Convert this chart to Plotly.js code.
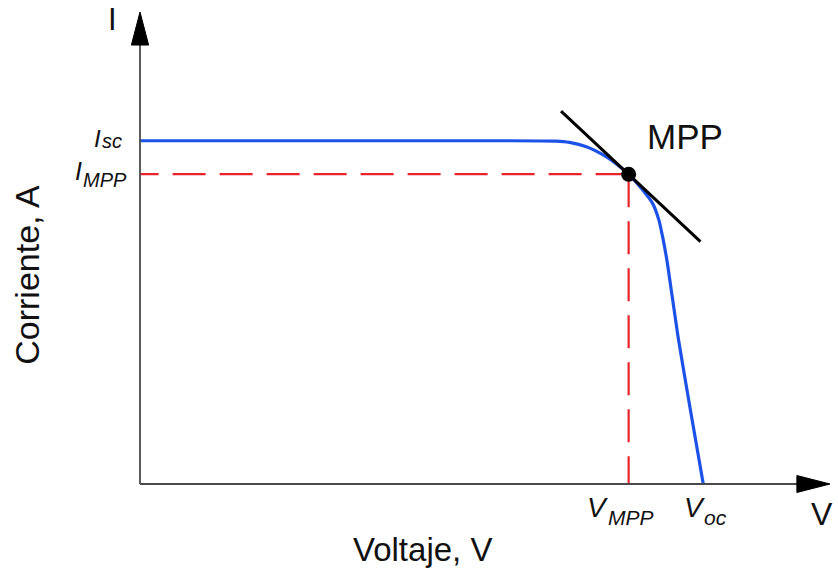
<!DOCTYPE html>
<html>
<head>
<meta charset="utf-8">
<script src="https://cdn.plot.ly/plotly-3.0.1.min.js"></script>
<style>
  html, body { margin: 0; padding: 0; background: #ffffff; }
  #chart { width: 838px; height: 575px; }
</style>
</head>
<body>
<div id="chart"></div>
<script>
// I-V curve of a PV module (voltage in V, current in A)
const curveV = [0, 20, 29.5, 30.5, 31.7, 33.1, 34.1, 34.7, 35.7, 36.4, 36.85, 37.15, 37.45, 38.2, 39.1, 40];
const curveI = [8, 8, 7.99, 7.96, 7.86, 7.63, 7.39, 7.22, 6.85, 6.54, 6.15, 5.7, 5.15, 3.45, 1.7, 0];

// Maximum power point and characteristic points
const Isc = 8.0;
const Voc = 40.0;
const Vmpp = 34.7;
const Impp = 7.22;

// Tangent to the curve at the MPP
const tangentV = [29.9, 39.8];
const tangentI = [8.69, 5.65];

// Axis ranges
const xRange = [0, 49];
const yRange = [0, 11];

const FONT = 'Liberation Sans, Arial, Helvetica, sans-serif';
const INK = '#111111';

const traces = [
  {
    // red dashed guide from the MPP to the current axis
    x: [Vmpp, 0], y: [Impp, Impp],
    mode: 'lines', cliponaxis: false, hoverinfo: 'skip',
    line: { color: '#e8232c', width: 2.2, dash: '33px,14px' }
  },
  {
    // red dashed guide from the MPP down to the voltage axis
    x: [Vmpp, Vmpp], y: [Impp, 0],
    mode: 'lines', cliponaxis: false, hoverinfo: 'skip',
    line: { color: '#e8232c', width: 2.2, dash: '33px,14px' }
  },
  {
    x: curveV, y: curveI,
    mode: 'lines', cliponaxis: false,
    line: { color: '#1d52e8', width: 3.2, shape: 'spline', smoothing: 0.6 }
  },
  {
    x: tangentV, y: tangentI,
    mode: 'lines', cliponaxis: false,
    line: { color: '#000000', width: 3 }
  },
  {
    x: [Vmpp], y: [Impp],
    mode: 'markers', cliponaxis: false,
    marker: { color: '#000000', size: 15 }
  }
];

const axisColor = '#4a4a4a';

const shapes = [
  // voltage axis line
  { type: 'line', xref: 'paper', yref: 'paper', x0: 0, y0: 0, x1: 0.96, y1: 0,
    line: { color: axisColor, width: 1.8 } },
  // current axis line
  { type: 'line', xref: 'paper', yref: 'paper', x0: 0, y0: 0, x1: 0, y1: 0.94,
    line: { color: axisColor, width: 1.8 } },
  // arrowhead on voltage axis
  { type: 'path', xref: 'paper', yref: 'paper',
    path: 'M 1 0 L 0.952 0.018 L 0.952 -0.018 Z',
    fillcolor: '#000000', line: { color: '#000000', width: 1 } },
  // arrowhead on current axis
  { type: 'path', xref: 'paper', yref: 'paper',
    path: 'M 0 1 L -0.0125 0.93 L 0.0125 0.93 Z',
    fillcolor: '#000000', line: { color: '#000000', width: 1 } }
];

function note(text, size, pos) {
  return Object.assign({
    text: text, showarrow: false,
    font: { family: FONT, size: size, color: INK },
    xanchor: 'center', yanchor: 'middle'
  }, pos);
}

// symbol + subscript drawn as two pieces so each keeps its own size
function currentLabel(main, sub, level, mainSize, subSize, o) {
  return [
    note('<i>' + main + '</i>', mainSize,
      { xref: 'paper', yref: 'y', x: 0, y: level, xshift: o.mx, yshift: o.my }),
    note('<i>' + sub + '</i>', subSize,
      { xref: 'paper', yref: 'y', x: 0, y: level, xshift: o.sx, yshift: o.sy, xanchor: 'left' })
  ];
}
function voltageLabel(main, sub, level, mainSize, subSize, o) {
  return [
    note('<i>' + main + '</i>', mainSize,
      { xref: 'x', yref: 'paper', x: level, y: 0, xshift: o.mx, yshift: o.my }),
    note('<i>' + sub + '</i>', subSize,
      { xref: 'x', yref: 'paper', x: level, y: 0, xshift: o.sx, yshift: o.sy, xanchor: 'left' })
  ];
}

const annotations = [].concat(
  currentLabel('I', 'sc', Isc, 24, 20, { mx: -42.5, my: 2.0, sx: -40.5, sy: -0.4 }),
  currentLabel('I', 'MPP', Impp, 25, 20, { mx: -61.5, my: 2.9, sx: -59.5, sy: -5.9 }),
  voltageLabel('V', 'MPP', Vmpp, 28, 21, { mx: -31, my: -23.3, sx: -23, sy: -33.7 }),
  voltageLabel('V', 'oc', Voc, 28, 21, { mx: -8.3, my: -23.3, sx: -1.3, sy: -33.7 }),
  [
    note('MPP', 35, { xref: 'x', yref: 'y', x: 38.7, y: 8.1 }),
    // axis symbols
    note('I', 31, { xref: 'paper', yref: 'paper', x: -0.04, y: 1.0254, yanchor: 'top' }),
    note('V', 32, { xref: 'paper', yref: 'paper', x: 0.988, y: -0.063 }),
    // axis titles
    note('Voltaje, V', 33, { xref: 'paper', yref: 'paper', x: 0.41, y: -0.138 }),
    note('Corriente, A', 34, { xref: 'paper', yref: 'paper', x: -0.164, y: 0.443, textangle: -90 })
  ]
);

const layout = {
  width: 838, height: 575,
  margin: { l: 140, r: 8, t: 12, b: 91 },
  paper_bgcolor: '#ffffff', plot_bgcolor: '#ffffff',
  showlegend: false,
  xaxis: { range: xRange, visible: false, fixedrange: true },
  yaxis: { range: yRange, visible: false, fixedrange: true },
  shapes: shapes,
  annotations: annotations
};

Plotly.newPlot('chart', traces, layout, { staticPlot: true, displayModeBar: false });
</script>
</body>
</html>
